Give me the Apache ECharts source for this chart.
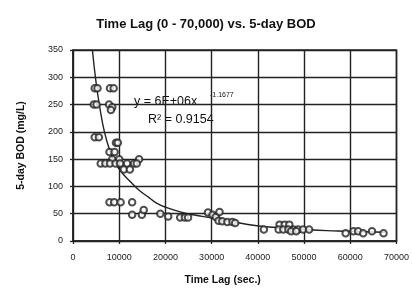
<!DOCTYPE html>
<html>
<head>
<meta charset="utf-8">
<script src="https://cdn.jsdelivr.net/npm/echarts@6/dist/echarts.min.js"></script>
<style>
  html, body { margin: 0; padding: 0; background: #fff; }
  #main { width: 412px; height: 291px; }
</style>
</head>
<body>
<div id="main"></div>
<script>
// observed points (time lag in sec, BOD in mg/L)
const lagSec = [
    4700, 5300, 8000, 8800,
    4500, 5100, 7800, 8500, 8200,
    4700, 5600,
    9300, 9700,
    7900, 9000,
    8500, 10000, 14300,
    6000, 7000, 8000, 9200, 10200, 11700, 13200, 13800,
    11000, 12300,
    7900, 8900, 10300, 12800,
    12800, 14900, 15300,
    18900, 20600, 23200, 24200, 24900,
    29200, 30200, 30900, 31700, 31500, 32300, 33400, 34500, 35100,
    41300,
    44700, 45800, 46800,
    44500, 45500, 46600, 47700, 48700, 49800, 51100,
    47200, 48300,
    59000, 60700, 61700, 62800, 64700, 67200
];
const bod = [
    280, 280, 280, 280,
    250, 250, 250, 245, 240,
    190, 190,
    180, 180,
    163, 163,
    150, 150, 150,
    142, 142, 142, 142, 142, 142, 142, 142,
    131, 131,
    71, 71, 71, 71,
    48, 48, 57,
    50, 45, 43, 43, 43,
    52, 48, 44, 53, 37, 36, 35, 35, 33,
    21,
    30, 30, 30,
    21, 21, 21, 21, 21, 21, 21,
    18, 18,
    14, 18, 18, 14, 18, 14
];

// power trend line
const trendX = [4200, 5000, 5800, 6800, 8000, 9000, 10600, 12500, 14300, 16400, 18000,
    20000, 23400, 26000, 30200, 34000, 39800, 45000, 50400, 55000, 59000, 63000, 67500];
const trendY = [350, 290, 245, 200, 165, 145, 125, 108, 93, 80, 70,
    62, 53, 48, 42, 36, 28, 24, 21, 19, 18, 17, 16];

const xTicks = [0, 10000, 20000, 30000, 40000, 50000, 60000, 70000];
const yTicks = [0, 50, 100, 150, 200, 250, 300, 350];

const chart = echarts.init(document.getElementById('main'));

const points = lagSec.map((x, i) => [x, bod[i]]);
const trend = trendX.map((x, i) => [x, trendY[i]]);

const font = 'Liberation Sans, Arial, sans-serif';

option = {
    animation: false,
    backgroundColor: '#fff',
    title: {
        text: 'Time Lag (0 - 70,000) vs. 5-day BOD',
        left: 201,
        textAlign: 'center',
        top: 13,
        textStyle: { fontFamily: font, fontSize: 13, fontWeight: 'bold', color: '#111' }
    },
    grid: { left: 73, right: 9, top: 50, bottom: 44, show: true, borderColor: '#222', borderWidth: 1.5 },
    xAxis: {
        type: 'value',
        min: xTicks[0],
        max: xTicks[xTicks.length - 1],
        interval: 10000,
        name: 'Time Lag (sec.)',
        nameLocation: 'middle',
        nameGap: 34,
        nameTextStyle: { fontFamily: font, fontSize: 10.5, fontWeight: 'bold', color: '#111', padding: [0, 24, 0, 0] },
        axisLine: { lineStyle: { color: '#222', width: 1.5 } },
        axisTick: { show: true, length: 3, lineStyle: { color: '#222', width: 1.3 } },
        axisLabel: { fontFamily: font, fontSize: 9, color: '#222', margin: 12, formatter: (v) => String(v) },
        splitLine: { show: true, lineStyle: { color: '#222', width: 1.4 } }
    },
    yAxis: {
        type: 'value',
        min: yTicks[0],
        max: yTicks[yTicks.length - 1],
        interval: 50,
        name: '5-day BOD (mg/L)',
        nameLocation: 'middle',
        nameGap: 46,
        nameTextStyle: { fontFamily: font, fontSize: 10.5, fontWeight: 'bold', color: '#111' },
        axisLine: { lineStyle: { color: '#222', width: 1.5 } },
        axisTick: { show: true, length: 3, lineStyle: { color: '#222', width: 1.3 } },
        axisLabel: { fontFamily: font, fontSize: 9, color: '#222', margin: 10 },
        splitLine: { show: true, lineStyle: { color: '#222', width: 1.4 } }
    },
    graphic: [
        {
            type: 'text', left: 134, top: 95,
            style: { text: 'y = 6E+06x', fontFamily: font, fontSize: 12.5, fill: '#111' }
        },
        {
            type: 'text', left: 210, top: 92,
            style: { text: '-1.1677', fontFamily: font, fontSize: 7, fill: '#111' }
        },
        {
            type: 'text', left: 148, top: 113,
            style: { text: 'R² = 0.9154', fontFamily: font, fontSize: 12.5, fill: '#111' }
        }
    ],
    series: [
        {
            type: 'line',
            data: trend,
            smooth: true,
            showSymbol: false,
            clip: true,
            lineStyle: { color: '#222', width: 1.4 },
            z: 3
        },
        {
            type: 'scatter',
            data: points,
            symbol: 'emptyCircle',
            symbolSize: 6.5,
            itemStyle: { color: '#222', borderColor: '#222', borderWidth: 1.3 },
            z: 4
        }
    ]
};

chart.setOption(option);
</script>
</body>
</html>
